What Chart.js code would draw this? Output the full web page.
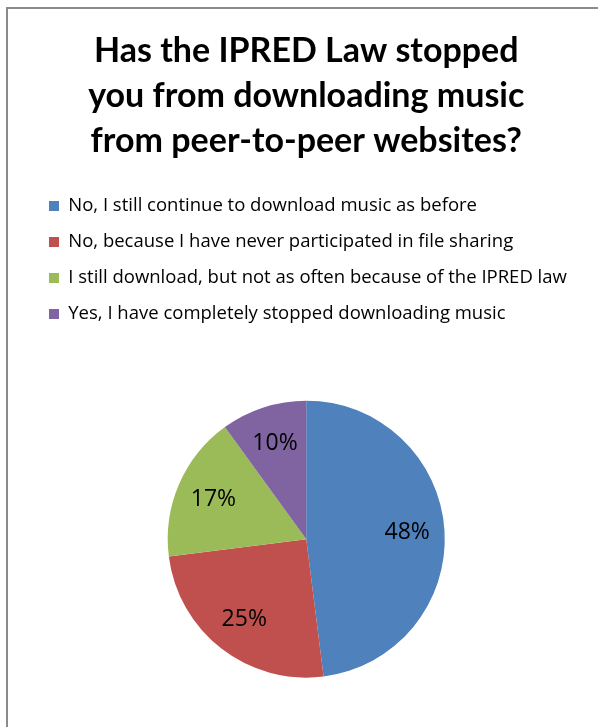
<!DOCTYPE html>
<html>
<head>
<meta charset="utf-8">
<script src="https://cdn.jsdelivr.net/npm/chart.js@4/dist/chart.umd.min.js"></script>
<style>
  html, body { margin: 0; padding: 0; background: #fff; overflow: hidden; }
  #frame {
    position: absolute; left: 6px; top: 7px; width: 640px; height: 760px;
    border: 2px solid #8a8a8a; box-sizing: border-box;
  }
  #canvas { position: absolute; left: 0; top: 0; }
</style>
</head>
<body>
<div id="frame"></div>
<canvas id="canvas"></canvas>
<script>
"use strict";

const titleLines = [
  "Has the IPRED Law stopped",
  "you from downloading music",
  "from peer-to-peer websites?"
];
const categories = [
  "No, I still continue to download music as before",
  "No, because I have never participated in file sharing",
  "I still download, but not as often because of the IPRED law",
  "Yes, I have completely stopped downloading music"
];
const shares = [48, 25, 17, 10];
const sliceColors = ["#4F81BD", "#C0504D", "#9BBB59", "#8064A2"];

// Etiquetas de porcentaje dentro de cada porción
const sliceLabels = {
  id: "sliceLabels",
  afterDatasetsDraw(chart) {
    const ctx = chart.ctx;
    const meta = chart.getDatasetMeta(0);
    ctx.save();
    ctx.font = "23px 'Open Sans'";
    ctx.fillStyle = "#000";
    ctx.textAlign = "center";
    ctx.textBaseline = "middle";
    meta.data.forEach((arc, i) => {
      const mid = (arc.startAngle + arc.endAngle) / 2;
      const r = arc.outerRadius * 0.73;
      ctx.fillText(shares[i] + "%", arc.x + Math.cos(mid) * r, arc.y + Math.sin(mid) * r);
    });
    ctx.restore();
  }
};

const canvas = document.getElementById("canvas");
canvas.width = 598;
canvas.height = 760;

new Chart(canvas.getContext("2d"), {
  type: "pie",
  data: {
    labels: categories,
    datasets: [{
      data: shares,
      backgroundColor: sliceColors,
      borderWidth: 0,
      radius: 138.5
    }]
  },
  options: {
    responsive: false,
    maintainAspectRatio: false,
    animation: false,
    layout: { padding: { left: 31.5, right: 17, top: 8, bottom: 15 } },
    plugins: {
      title: {
        display: true,
        text: titleLines,
        color: "#000",
        font: { family: "Lato", size: 34, weight: "bold", lineHeight: "45px" },
        padding: { top: 20.5, bottom: 15.75 }
      },
      legend: {
        position: "top",
        align: "start",
        labels: {
          color: "#000",
          font: { family: "'Open Sans'", size: 18.5 },
          boxWidth: 10,
          boxHeight: 10,
          padding: 17.5
        }
      },
      tooltip: { enabled: false }
    }
  },
  plugins: [sliceLabels]
});
</script>
</body>
</html>
